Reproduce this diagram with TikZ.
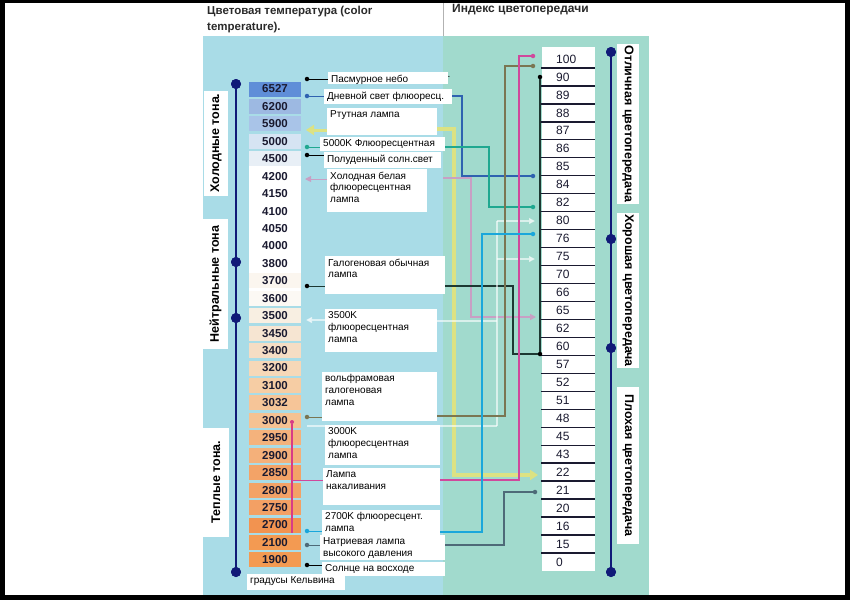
\documentclass[tikz,border=0pt]{standalone}
\usepackage{fontspec}
\setmainfont{Liberation Sans}
\usetikzlibrary{arrows.meta}
\definecolor{panelL}{HTML}{A9DCE7}
\definecolor{panelR}{HTML}{A1DACD}
\definecolor{navy}{HTML}{101A78}
\definecolor{numc}{HTML}{1A1A30}
\definecolor{cBlueC}{HTML}{2F62B0}
\definecolor{cTealC}{HTML}{1FA890}
\definecolor{cMauveC}{HTML}{C8A0C4}
\definecolor{cOliveC}{HTML}{7A7652}
\definecolor{cMagC}{HTML}{D0489C}
\definecolor{cCyanC}{HTML}{1AA7DB}
\definecolor{cSlateC}{HTML}{4E6A78}
\definecolor{cYelC}{HTML}{DCE283}
\definecolor{cDarkC}{HTML}{1C3832}
\definecolor{cPinkC}{HTML}{D83C86}
\definecolor{hdrc}{HTML}{2A2A2A}
\newcommand{\fHdr}{\fontsize{11.5}{16}\selectfont\bfseries}
\newcommand{\fHdrB}{\fontsize{12}{14}\selectfont\bfseries}
\newcommand{\fLbl}{\fontsize{10}{11.8}\selectfont}
\newcommand{\fTnum}{\fontsize{11.5}{13}\selectfont\bfseries}
\newcommand{\fRnum}{\fontsize{12}{14}\selectfont}
\newcommand{\fRot}{\fontsize{12.5}{14}\selectfont\bfseries}
\newcommand{\lbl}[6]{\node[lbox, anchor=north west] (#1) at (#2,#3) {\parbox[c][\dimexpr#5pt-5pt\relax][t]{\dimexpr#4pt-6pt\relax}{\raggedright #6}};}
\begin{document}
\begin{tikzpicture}[x=1pt,y=-1pt,
  tbox/.style={rectangle, inner sep=0pt, minimum width=52pt, minimum height=15pt, font=\fTnum, text=numc},
  rnum/.style={inner sep=0pt, anchor=west, font=\fRnum, text=numc},
  lbox/.style={rectangle, fill=white, inner xsep=3pt, inner ysep=2.5pt, font=\fLbl, text=black},
  rlab/.style={rectangle, fill=white, inner sep=0pt, font=\fRot, text=black},
  adot/.style={circle, fill=navy, inner sep=0pt, minimum size=10pt},
  sdot/.style={circle, inner sep=0pt, minimum size=4.5pt},
  axisln/.style={draw=navy, line width=1.5pt},
  lnk/.style={line width=0.9pt},
  cn/.style={line width=1.4pt},
  yelln/.style={draw=cYelC, line width=3.5pt},
  whln/.style={draw=white, line width=1.3pt, opacity=0.6},
  sepln/.style={draw=numc, line width=1.3pt},
  tip/.style={-{Triangle[length=6pt,width=6pt]}},
  ytip/.style={-{Triangle[length=8pt,width=10pt]}}
]
\useasboundingbox (0,0) rectangle (850,600);
\fill[black] (0,0) rectangle (850,600);
\fill[white] (5,3) rectangle (845,595);
\fill[panelL] (203,36) rectangle (443,595);
\fill[panelR] (443,36) rectangle (649,595);
\draw[gray!60, line width=0.6pt] (443,3) -- (443,36);

% headers
\node[anchor=north west, inner sep=0pt, font=\fHdr, text=hdrc, align=left] (title1) at (207,6) {Цветовая температура (color\\temperature).};
\node[anchor=north west, inner sep=0pt, font=\fHdrB, text=hdrc] (title2) at (452,4) {Индекс цветопередачи};

% rotated labels left
\node[rlab, rotate=90, minimum width=105pt, minimum height=24pt] (cold) at (216,143) {Холодные тона.};
\node[rlab, rotate=90, minimum width=130pt, minimum height=25pt] (neut) at (215.5,284) {Нейтральные тона};
\node[rlab, rotate=90, minimum width=109pt, minimum height=26pt] (warm) at (216,482) {Теплые тона.};

% left axis
\node[adot] (la1) at (236,84) {};
\node[adot] (la2) at (236,262) {};
\node[adot] (la3) at (236,318) {};
\node[adot] (la4) at (236,572) {};
\draw[axisln] (la1.center) -- (la4.center);
\foreach \n in {la1,la2,la3,la4} \fill[navy] (\n) circle (5pt);

% temperature column
\fill[white] (249,151) rectangle (301,306);
\foreach \v/\c [count=\i from 0] in {6527/5F8ED8,6200/9DB9E2,5900/A9C4E8,5000/D6E4F3,4500/E8EFF6,4200/FFFFFF,4150/FFFFFF,4100/FFFFFF,4050/FFFFFF,4000/FFFFFF,3800/FFFFFF,3700/FBF6EF,3600/FCF9F4,3500/F8EFE2,3450/F6E5D2,3400/F5DDC4,3200/F6D8B8,3100/F6CDA4,3032/F6C598,3000/F5C292,2950/F4B27C,2900/F4B07A,2850/F3A367,2800/F3A266,2750/F3A064,2700/F29350,2100/F39A52,1900/F39A52} {
  \definecolor{tmpc}{HTML}{\c}
  \node[tbox, fill=tmpc] (t\i) at (275,89+17.44*\i) {\v};
}

% right column
\fill[white] (542,47) rectangle (595,571);
\foreach \j in {0,...,27} { \draw[sepln] (541,{59+17.96*(\j+0.5)}) -- (595,{59+17.96*(\j+0.5)}); }
\foreach \v [count=\j from 0] in {100,90,89,88,87,86,85,84,82,80,76,75,70,66,65,62,60,57,52,51,48,45,43,22,21,20,16,15,0} {
  \node[rnum] (r\j) at (556,59+17.96*\j) {\v};
}

% right axis
\node[adot] (ra1) at (611,52) {};
\node[adot] (ra2) at (611,239) {};
\node[adot] (ra3) at (611,348) {};
\node[adot] (ra4) at (611,572) {};
\draw[axisln] (ra1.center) -- (ra4.center);
\foreach \n in {ra1,ra2,ra3,ra4} \fill[navy] (\n) circle (5pt);

% rotated labels right
\node[rlab, rotate=-90, minimum width=160pt, minimum height=22pt] (exc) at (628,124) {Отличная цветопередача};
\node[rlab, rotate=-90, minimum width=155pt, minimum height=22pt] (good) at (628,290.5) {Хорошая цветопередача};
\node[rlab, rotate=-90, minimum width=157pt, minimum height=22pt] (poor) at (628,465.5) {Плохая цветопередача};

% labels
\lbl{L1}{328}{72}{120}{12}{Пасмурное небо}
\lbl{L2}{324}{89}{128}{15}{Дневной свет флюоресц.}
\lbl{L3}{327}{108}{110}{27}{Ртутная лампа}
\lbl{L4}{320}{137}{125}{14}{5000K Флюоресцентная}
\lbl{L5}{324}{152}{117}{16}{Полуденный солн.свет}
\lbl{L6}{327}{169}{100}{43}{Холодная белая\\флюоресцентная\\лампа}
\lbl{L7}{325}{256}{120}{38}{Галогеновая обычная\\лампа}
\lbl{L8}{325}{309}{112}{43}{3500K\\флюоресцентная\\лампа}
\lbl{L9}{322}{372}{115}{49}{вольфрамовая\\галогеновая\\лампа}
\lbl{L10}{325}{425}{115}{40}{3000K\\флюоресцентная\\лампа}
\lbl{L11}{323}{468}{117}{37}{Лампа\\накаливания}
\lbl{L12}{322}{510}{118}{26}{2700K флюоресцент.\\лампа}
\lbl{L13}{320}{535}{125}{25}{Натриевая лампа\\высокого давления}
\lbl{L14}{322}{562}{123}{14}{Солнце на восходе}
\lbl{L15}{247}{574}{98}{16}{градусы Кельвина}
\node[inner sep=0pt, font=\fLbl] (dotm) at (449,77) {.};

% left connector dots
\node[sdot, fill=black] (dA) at (307,79) {};
\node[sdot, fill=cBlueC] (dB) at (307,96) {};
\coordinate (dC) at (306,130);
\node[sdot, fill=cTealC] (dD) at (307,147) {};
\node[sdot, fill=black] (dE) at (307,155) {};
\coordinate (dF) at (305,179);
\node[sdot, fill=black] (dG) at (307,286) {};
\coordinate (dH) at (306,320);
\node[sdot, fill=cOliveC] (dI) at (307,417) {};
\coordinate (dJ) at (307,426);
\node[sdot, fill=cCyanC] (dK) at (307,531) {};
\node[sdot, fill=cSlateC] (dL) at (307,545) {};
\node[sdot, fill=black] (dM) at (307,565) {};

% right connector ends
\node[sdot, fill=cMagC] (eN) at (533,56) {};
\node[sdot, fill=cOliveC] (eI) at (533,66) {};
\node[sdot, fill=black] (eG2) at (540,77) {};
\node[sdot, fill=cBlueC] (eB) at (533,176) {};
\node[sdot, fill=cTealC] (eD) at (533,207) {};
\coordinate (eH1) at (535,221);
\node[sdot, fill=cCyanC] (eK) at (533,234) {};
\coordinate (eH2) at (535,259);
\coordinate (eF) at (536,317);
\node[sdot, fill=black] (eG) at (540,354) {};
\coordinate (eC) at (538,475);
\node[sdot, fill=cSlateC] (eL) at (535,492) {};

% start points on the right side
\coordinate (sB) at (452,96);
\coordinate (sC) at (437,129);
\coordinate (sD) at (445,147);
\coordinate (sF) at (443,178);
\coordinate (sG) at (445,286);
\coordinate (sH) at (437,321);
\coordinate (sI) at (437,416);
\coordinate (sJ) at (440,426);
\coordinate (sN) at (440,480);
\coordinate (sK) at (440,532);
\coordinate (sL) at (445,545);
\coordinate (wTop) at (497,221);
\coordinate (wMid) at (497,259);
\coordinate (wM) at (497,321);
\coordinate (wBot) at (497,426);

% short left connectors
\draw[lnk, black] (dA) -- (dA -| L1.west);
\draw[lnk, cBlueC] (dB) -- (dB -| L2.west);
\draw[draw=cYelC, line width=3pt, ytip] (dC -| L3.west) -- (dC);
\draw[lnk, cTealC] (dD) -- (dD -| L4.west);
\draw[lnk, black] (dE) -- (dE -| L5.west);
\draw[lnk, cMauveC, tip] (dF -| L6.west) -- (dF);
\draw[lnk, cDarkC] (dG) -- (dG -| L7.west);
\draw[whln, tip] (dH -| L8.west) -- (dH);
\draw[lnk, cOliveC] (dI) -- (dI -| L9.west);
\draw[whln] (dJ -| L10.west) -- (dJ);
\draw[lnk, cCyanC] (dK) -- (dK -| L12.west);
\draw[lnk, cSlateC] (dL) -- (dL -| L13.west);
\draw[lnk, black] (dM) -- (dM -| L14.west);

% incandescent range marker
\node[sdot, fill=cPinkC, minimum size=4pt] (pT) at (292,422) {};
\coordinate (pB) at (292,533);
\coordinate (pM) at (292,480);
\draw[cPinkC, line width=1.1pt] (pT) -- (pB);
\draw[cPinkC, line width=2pt] (292,512) -- (pB);
\draw[cMagC, line width=1pt] (pM) -- (pM -| L11.west);

% long connectors
\draw[yelln, ytip] (sC) -- ++(17,0) |- (eC);
\draw[cn, cBlueC] (sB) -- ++(10,0) |- (eB);
\draw[cn, cTealC] (sD) -- ++(44,0) |- (eD);
\draw[cn, cMauveC, tip] (sF) -- ++(28,0) |- (eF);
\draw[cn, cDarkC] (sG) -- ++(68,0) |- (eG);
\draw[cn, cDarkC] (eG2) -- (eG);
\draw[whln] (sH) -- (wM);
\draw[whln] (sJ) -- (wBot);
\draw[whln] (wBot) -- (wTop);
\draw[whln, tip] (wTop) -- (eH1);
\draw[whln, tip] (wMid) -- (eH2);
\draw[cn, cOliveC] (sI) -- ++(68,0) |- (eI);
\draw[cn, cMagC] (sN) -- ++(79,0) |- (eN);
\draw[cn, cCyanC] (sK) -- ++(42,0) |- (eK);
\draw[cn, cSlateC] (sL) -- ++(59,0) |- (eL);
\end{tikzpicture}
\end{document}
